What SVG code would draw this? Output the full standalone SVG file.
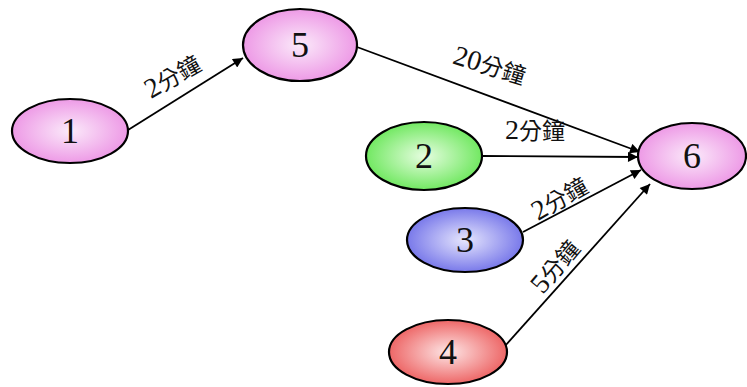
<svg xmlns="http://www.w3.org/2000/svg" width="747" height="387" viewBox="0 0 747 387">
<defs>
<radialGradient id="gPink" cx="50%" cy="50%" r="55%"><stop offset="0" stop-color="#fbeafa"/><stop offset="1" stop-color="#ec92e4"/></radialGradient>
<radialGradient id="gGreen" cx="50%" cy="50%" r="55%"><stop offset="0" stop-color="#e6fde0"/><stop offset="1" stop-color="#66e655"/></radialGradient>
<radialGradient id="gBlue" cx="50%" cy="50%" r="55%"><stop offset="0" stop-color="#e6e6fd"/><stop offset="1" stop-color="#6e6ee8"/></radialGradient>
<radialGradient id="gRed" cx="50%" cy="50%" r="55%"><stop offset="0" stop-color="#fde6e6"/><stop offset="1" stop-color="#ec5a5a"/></radialGradient>
<marker id="arr" viewBox="0 0 10 10" refX="10" refY="5" markerWidth="12" markerHeight="10" markerUnits="userSpaceOnUse" orient="auto"><path d="M0,0 L10,5 L0,10 z" fill="#000"/></marker>
<style>
.node ellipse{stroke:#000;stroke-width:2.2}
.num{font-family:"Liberation Serif","Noto Sans CJK TC",serif;font-size:36px;text-anchor:middle;dominant-baseline:central;fill:#111}
.edge{stroke:#000;stroke-width:1.8;fill:none;marker-end:url(#arr)}
.lbl{font-family:"Liberation Serif","Noto Sans CJK TC",serif;font-size:23px;text-anchor:middle;fill:#111}
.d{font-size:28px}
</style>
</defs>
<g id="connectors">
<line class="edge" x1="128" y1="130" x2="243" y2="58"/>
<line class="edge" x1="357" y1="47" x2="640" y2="152"/>
<line class="edge" x1="483" y1="156" x2="638" y2="157"/>
<line class="edge" x1="523" y1="232" x2="641" y2="170"/>
<line class="edge" x1="505" y1="346" x2="650" y2="184"/>
<text class="lbl" transform="translate(177,84) rotate(-30)"><tspan class="d">2</tspan>分鐘</text>
<text class="lbl" transform="translate(487,74) rotate(17)"><tspan class="d">20</tspan>分鐘</text>
<text class="lbl" transform="translate(535,139)"><tspan class="d">2</tspan>分鐘</text>
<text class="lbl" transform="translate(564,206) rotate(-30)"><tspan class="d">2</tspan>分鐘</text>
<text class="lbl" transform="translate(562,272) rotate(-50)"><tspan class="d">5</tspan>分鐘</text>
</g>
<g id="node1" class="node"><ellipse cx="70" cy="131" rx="58" ry="32" fill="url(#gPink)"/><text class="num" x="70" y="131">1</text></g>
<g id="node5" class="node"><ellipse cx="300" cy="45" rx="57" ry="36" fill="url(#gPink)"/><text class="num" x="300" y="45">5</text></g>
<g id="node2" class="node"><ellipse cx="424" cy="156" rx="58" ry="34" fill="url(#gGreen)"/><text class="num" x="424" y="156">2</text></g>
<g id="node3" class="node"><ellipse cx="465" cy="240" rx="58" ry="32" fill="url(#gBlue)"/><text class="num" x="465" y="240">3</text></g>
<g id="node4" class="node"><ellipse cx="448" cy="352" rx="59" ry="32" fill="url(#gRed)"/><text class="num" x="448" y="352">4</text></g>
<g id="node6" class="node"><ellipse cx="692" cy="156" rx="54" ry="33" fill="url(#gPink)"/><text class="num" x="692" y="156">6</text></g>
</svg>
